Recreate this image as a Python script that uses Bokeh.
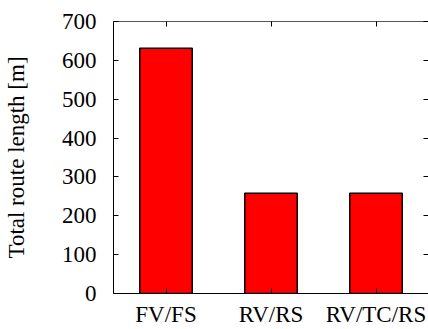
from bokeh.plotting import figure
from bokeh.models import Range1d, FixedTicker, LinearAxis
from bokeh.embed import file_html
from bokeh.resources import INLINE

categories = ["FV/FS", "RV/RS", "RV/TC/RS"]
route_length = [631, 258, 258]
y_ticks = [0, 100, 200, 300, 400, 500, 600, 700]

FONT = "'Liberation Serif', 'Times New Roman', serif"
FS = "23px"

p = figure(x_range=categories, y_range=Range1d(0, 700), width=428, height=329,
           output_backend="svg", toolbar_location=None,
           min_border_left=105, min_border_right=0, min_border_top=21, min_border_bottom=35)
p.vbar(x=categories, top=route_length, width=0.5, fill_color="#ff0000",
       line_color="black", line_width=1.5)

p.xgrid.visible = False
p.ygrid.visible = False
p.outline_line_color = None
p.background_fill_color = "white"
p.border_fill_color = "white"

# left axis
ya = p.yaxis[0]
ya.ticker = FixedTicker(ticks=y_ticks)
ya.minor_tick_line_color = None
ya.major_tick_in = 5
ya.major_tick_out = 0
ya.major_label_text_font = FONT
ya.major_label_text_font_size = FS
ya.major_label_text_color = "black"
ya.major_label_standoff = 17
ya.axis_label = "Total route length [m]"
ya.axis_label_text_font = FONT
ya.axis_label_text_font_size = FS
ya.axis_label_text_font_style = "normal"
ya.axis_label_text_color = "black"
ya.axis_label_standoff = 30
ya.axis_line_color = "black"

# bottom axis
xa = p.xaxis[0]
xa.major_tick_in = 5
xa.major_tick_out = 0
xa.major_label_text_font = FONT
xa.major_label_text_font_size = FS
xa.major_label_text_color = "black"
xa.major_label_standoff = 8
xa.axis_line_color = "black"

# mirrored ticks on top and right (labels blanked)
centers = [i + 0.5 for i in range(len(categories))]
ta = LinearAxis(ticker=FixedTicker(ticks=centers), major_tick_in=5, major_tick_out=0,
                minor_tick_line_color=None, major_label_standoff=0,
                major_label_overrides={c: "" for c in centers},
                axis_line_color="#555555")
p.add_layout(ta, "above")
ra = LinearAxis(ticker=FixedTicker(ticks=y_ticks), major_tick_in=5, major_tick_out=0,
                minor_tick_line_color=None, major_label_standoff=0,
                major_label_overrides={t: "" for t in y_ticks},
                axis_line_color=None)
p.add_layout(ra, "right")

open("out.html", "w").write(file_html(p, INLINE))
